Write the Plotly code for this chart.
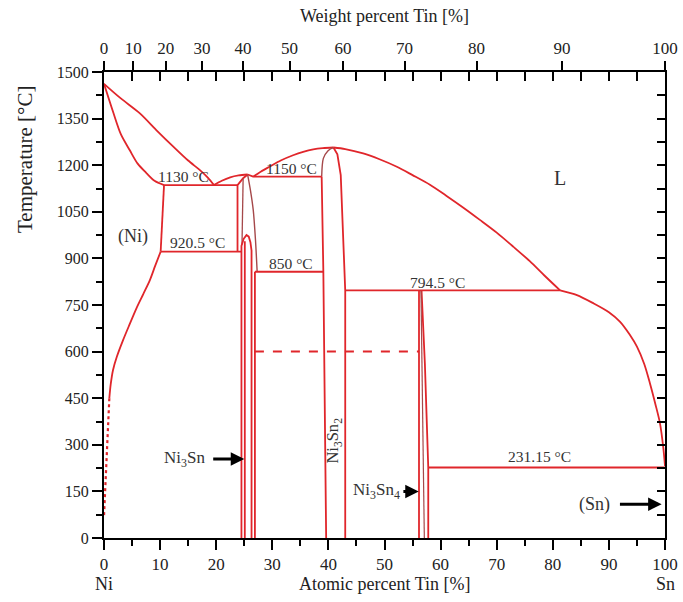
import plotly.graph_objects as go

# ---------------- data (atomic % Sn, temperature in °C) ----------------
liq_ni_x = [0, 3.0, 6.4, 9.5, 12.4, 15.0, 17.1, 18.5, 19.6]
liq_ni_T = [1462, 1415, 1367, 1310, 1259, 1215, 1184, 1160, 1136]

sol_ni_x = [0, 1.7, 3.0, 4.6, 6.0, 7.6, 9.0, 10.7]
sol_ni_T = [1462, 1367, 1300, 1248, 1205, 1174, 1150, 1136]

liq_ni3sn_x = [19.6, 21.0, 22.5, 24.0, 25.6]
liq_ni3sn_T = [1136, 1150, 1161, 1167, 1170]
liq_ni3sn_drop_x = [25.6, 26.6]
liq_ni3sn_drop_T = [1170, 1163]

liq_ni3sn2_x = [26.6, 28.0, 29.6, 31.5, 33.7, 35.5, 37.3, 39.0, 40.9]
liq_ni3sn2_T = [1163, 1180, 1196, 1215, 1232, 1243, 1251, 1255, 1257]

liq_right_x = [40.9, 43.0, 46.2, 49.0, 52.2, 55.0, 58.1, 61.0, 64.0, 67.0, 70.0, 73.0, 75.9, 78.5, 81.3]
liq_right_T = [1257, 1252, 1238, 1220, 1195, 1168, 1137, 1102, 1064, 1024, 983, 937, 891, 845, 797]

liq_sn_x = [81.3, 84.3, 87.2, 90.0, 92.0, 93.7, 95.0, 96.3, 97.3, 98.3, 99.1, 99.7, 100]
liq_sn_T = [797, 782, 756, 727, 696, 655, 616, 560, 499, 430, 370, 290, 232]

solvus_ni_x = [10.7, 10.1]
solvus_ni_T = [1136, 922]
solvus_curve_x = [10.1, 9.1, 8.2, 7.0, 5.8, 4.5, 3.4, 2.3, 1.6, 1.2, 0.95]
solvus_curve_T = [922, 875, 831, 785, 740, 685, 637, 584, 540, 495, 450]
solvus_dot_x = [0.95, 0.75, 0.55, 0.35, 0.15, 0.0]
solvus_dot_T = [450, 380, 300, 220, 140, 70]

ht_left_x = [23.8, 23.8, 24.8, 25.6]
ht_left_T = [922, 1136, 1158, 1170]
ht_inner_x = [24.8, 24.6]
ht_inner_T = [1158, 945]
ht_right_x = [25.6, 26.1, 26.6, 27.0, 27.3]
ht_right_T = [1170, 1120, 1056, 960, 857]

lt_dome_x = [24.5, 24.5, 24.9, 25.4, 25.8, 26.1, 26.3, 26.3]
lt_dome_T = [0, 940, 963, 975, 970, 952, 925, 0]
lt_inner_x = [25.1, 25.1]
lt_inner_T = [0, 955]
p850_left_x = [26.9, 26.9]
p850_left_T = [0, 857]

ni3sn2_upper_left_x = [38.8, 39.1, 39.9, 40.9]
ni3sn2_upper_left_T = [1163, 1222, 1246, 1257]
ni3sn2_right_x = [40.9, 41.6, 42.2, 42.6, 43.0, 43.0]
ni3sn2_right_T = [1257, 1235, 1168, 975, 797, 0]
ni3sn2_lower_left_x = [38.8, 39.0, 39.1, 39.6]
ni3sn2_lower_left_T = [1163, 1000, 857, 0]

ni3sn4_left_x = [56.15, 56.15]
ni3sn4_left_T = [0, 797]
ni3sn4_right_x = [56.6, 57.2, 57.8, 57.8]
ni3sn4_right_T = [797, 560, 227, 0]
ni3sn4_inner_x = [56.5, 57.1]
ni3sn4_inner_T = [797, 0]

# invariant (horizontal) lines: (x_start, x_end, T)
iso_1130 = (10.7, 23.8, 1136)
iso_1150 = (26.6, 38.8, 1163)
iso_9205 = (10.1, 24.5, 922)
iso_850 = (26.9, 39.1, 857)
iso_7945 = (43.0, 81.3, 797)
iso_23115 = (57.8, 100.0, 227)
iso_600_dashed = (26.9, 56.15, 600)

# axes ticks
at_ticks = list(range(0, 101, 10))
T_ticks = list(range(0, 1501, 150))
wt_ticks = list(range(0, 101, 10))

M_NI, M_SN = 58.69, 118.71


def wt_to_at(w):
    if w >= 100:
        return 100.0
    a = w / M_SN
    b = (100 - w) / M_NI
    return 100.0 * a / (a + b)


wt_pos = [wt_to_at(w) for w in wt_ticks]

# ---------------- figure ----------------
RED = "#e0262b"
DARK = "#a5484a"
SERIF = "Liberation Serif"

fig = go.Figure()


def line(x, y, color=RED, width=1.8, dash=None, smooth=False):
    fig.add_trace(go.Scatter(x=x, y=y, mode="lines",
                             line=dict(color=color, width=width, dash=dash,
                                       shape="spline" if smooth else "linear",
                                       smoothing=0.8 if smooth else None),
                             hoverinfo="skip", showlegend=False))


line(liq_ni_x, liq_ni_T, smooth=True)
line(sol_ni_x, sol_ni_T, smooth=True)
line(liq_ni3sn_x, liq_ni3sn_T, smooth=True)
line(liq_ni3sn_drop_x, liq_ni3sn_drop_T)
line(liq_ni3sn2_x, liq_ni3sn2_T, smooth=True)
line(liq_right_x, liq_right_T, smooth=True)
line(liq_sn_x, liq_sn_T, smooth=True)
line(solvus_ni_x, solvus_ni_T)
line(solvus_curve_x, solvus_curve_T, smooth=True)
line(solvus_dot_x, solvus_dot_T, dash="dot", width=2.2)
line(ht_left_x, ht_left_T)
line(ht_inner_x, ht_inner_T, color=DARK, width=1.3)
line(ht_right_x, ht_right_T, color=DARK, width=1.4, smooth=True)
line(lt_dome_x, lt_dome_T)
line(lt_inner_x, lt_inner_T)
line(p850_left_x, p850_left_T)
line(ni3sn2_upper_left_x, ni3sn2_upper_left_T, color=DARK, width=1.4, smooth=True)
line(ni3sn2_right_x, ni3sn2_right_T)
line(ni3sn2_lower_left_x, ni3sn2_lower_left_T)
line(ni3sn4_left_x, ni3sn4_left_T)
line(ni3sn4_right_x, ni3sn4_right_T)
line(ni3sn4_inner_x, ni3sn4_inner_T, color=DARK, width=1.2)

for (x0, x1, t) in [iso_1130, iso_1150, iso_9205, iso_850, iso_7945, iso_23115]:
    line([x0, x1], [t, t])
x0, x1, t = iso_600_dashed
line([x0, x1], [t, t], dash="dash", width=2.0)

# dummy traces so that overlay axes are drawn
fig.add_trace(go.Scatter(x=[None], y=[None], xaxis="x2", yaxis="y", showlegend=False, hoverinfo="skip"))
fig.add_trace(go.Scatter(x=[None], y=[None], xaxis="x3", yaxis="y", showlegend=False, hoverinfo="skip"))
fig.add_trace(go.Scatter(x=[None], y=[None], xaxis="x", yaxis="y2", showlegend=False, hoverinfo="skip"))

xtickfont = dict(family=SERIF, size=17, color="#222")
ytickfont = dict(family=SERIF, size=16, color="#222")

fig.update_layout(
    width=683, height=602,
    margin=dict(l=104, r=18, t=72, b=64, autoexpand=False),
    paper_bgcolor="white", plot_bgcolor="white",
    showlegend=False,
    xaxis=dict(range=[0, 100], tickvals=at_ticks, ticks="outside", ticklen=10, tickwidth=2,
               tickcolor="black", showline=True, linewidth=2, linecolor="black", automargin=False,
               showgrid=False, zeroline=False, tickfont=xtickfont,
               minor=dict(dtick=5, ticks="outside", ticklen=6, tickwidth=2, tickcolor="black", showgrid=False)),
    xaxis2=dict(overlaying="x", side="top", range=[0, 100], tickvals=wt_pos, automargin=False,
                ticktext=[str(w) for w in wt_ticks], ticks="outside", ticklen=9, tickwidth=2,
                tickcolor="black", showline=True, linewidth=2, linecolor="black",
                showgrid=False, zeroline=False, tickfont=xtickfont),
    xaxis3=dict(overlaying="x", side="top", range=[0, 100], dtick=5, tick0=0, ticks="inside",
                ticklen=9, tickwidth=2, tickcolor="black", showticklabels=False, automargin=False,
                showgrid=False, zeroline=False, showline=False),
    yaxis=dict(range=[0, 1500], tickvals=T_ticks, ticks="outside", ticklen=10, tickwidth=2,
               tickcolor="black", showline=True, linewidth=2, linecolor="black", automargin=False,
               showgrid=False, zeroline=False, tickfont=ytickfont,
               minor=dict(dtick=75, ticks="outside", ticklen=6, tickwidth=2, tickcolor="black", showgrid=False)),
    yaxis2=dict(overlaying="y", side="right", range=[0, 1500], dtick=75, tick0=0, ticks="inside",
                ticklen=8, tickwidth=2, tickcolor="black", showticklabels=False, automargin=False,
                showline=True, linewidth=2, linecolor="black", showgrid=False, zeroline=False),
)

texts = [
    ("1130 °C", 14.1, 1164, 15.5),
    ("1150 °C", 33.5, 1188, 15.5),
    ("920.5 °C", 16.6, 950, 15.5),
    ("850 °C", 33.3, 884, 15.5),
    ("794.5 °C", 59.4, 824, 15.5),
    ("231.15 °C", 77.7, 262, 15.5),
    ("(Ni)", 5.1, 972, 18),
    ("L", 81.3, 1160, 20),
    ("Ni<sub>3</sub>Sn", 14.3, 253, 17),
    ("Ni<sub>3</sub>Sn<sub>4</sub>", 48.5, 150, 17),
    ("(Sn)", 87.5, 108, 18),
]
for t, x, y, s in texts:
    fig.add_annotation(x=x, y=y, text=t, showarrow=False, xref="x", yref="y",
                       xanchor="center", yanchor="middle",
                       font=dict(family=SERIF, size=s, color="#333"))

fig.add_annotation(x=40.9, y=315, text="Ni<sub>3</sub>Sn<sub>2</sub>", textangle=-90, showarrow=False,
                   xref="x", yref="y", xanchor="center", yanchor="middle",
                   font=dict(family=SERIF, size=16.5, color="#333"))

# arrows: (head x, tail x, T)
for (xh, xt, y) in [(25.0, 19.2, 254), (56.1, 53.1, 150), (99.4, 91.7, 109)]:
    fig.add_annotation(x=xh, y=y, ax=xt, ay=y, xref="x", yref="y", axref="x", ayref="y",
                       text="", showarrow=True, arrowhead=2, arrowsize=0.9, arrowwidth=3,
                       arrowcolor="black")

title_font = dict(family=SERIF, size=18, color="#222")
common = dict(showarrow=False, xanchor="center", yanchor="middle")
fig.add_annotation(x=0.5, y=1.0 + 56 / 466, xref="paper", yref="paper", text="Weight percent Tin [%]",
                   font=title_font, **common)
fig.add_annotation(x=0.5, y=-46 / 466, xref="paper", yref="paper", text="Atomic percent Tin [%]",
                   font=title_font, **common)
fig.add_annotation(x=0, y=-46 / 466, xref="x", yref="paper", text="Ni", font=title_font, **common)
fig.add_annotation(x=100, y=-46 / 466, xref="x", yref="paper", text="Sn", font=title_font, **common)
fig.add_annotation(x=-79 / 561, y=(538 - 160) / 466, xref="paper", yref="paper", text="Temperature [°C]",
                   textangle=-90, font=dict(family=SERIF, size=21, color="#222"), **common)

fig.write_html("out.html",
               config={"displayModeBar": False},
               post_script="document.body.style.margin='0';document.body.style.overflow='hidden';")
